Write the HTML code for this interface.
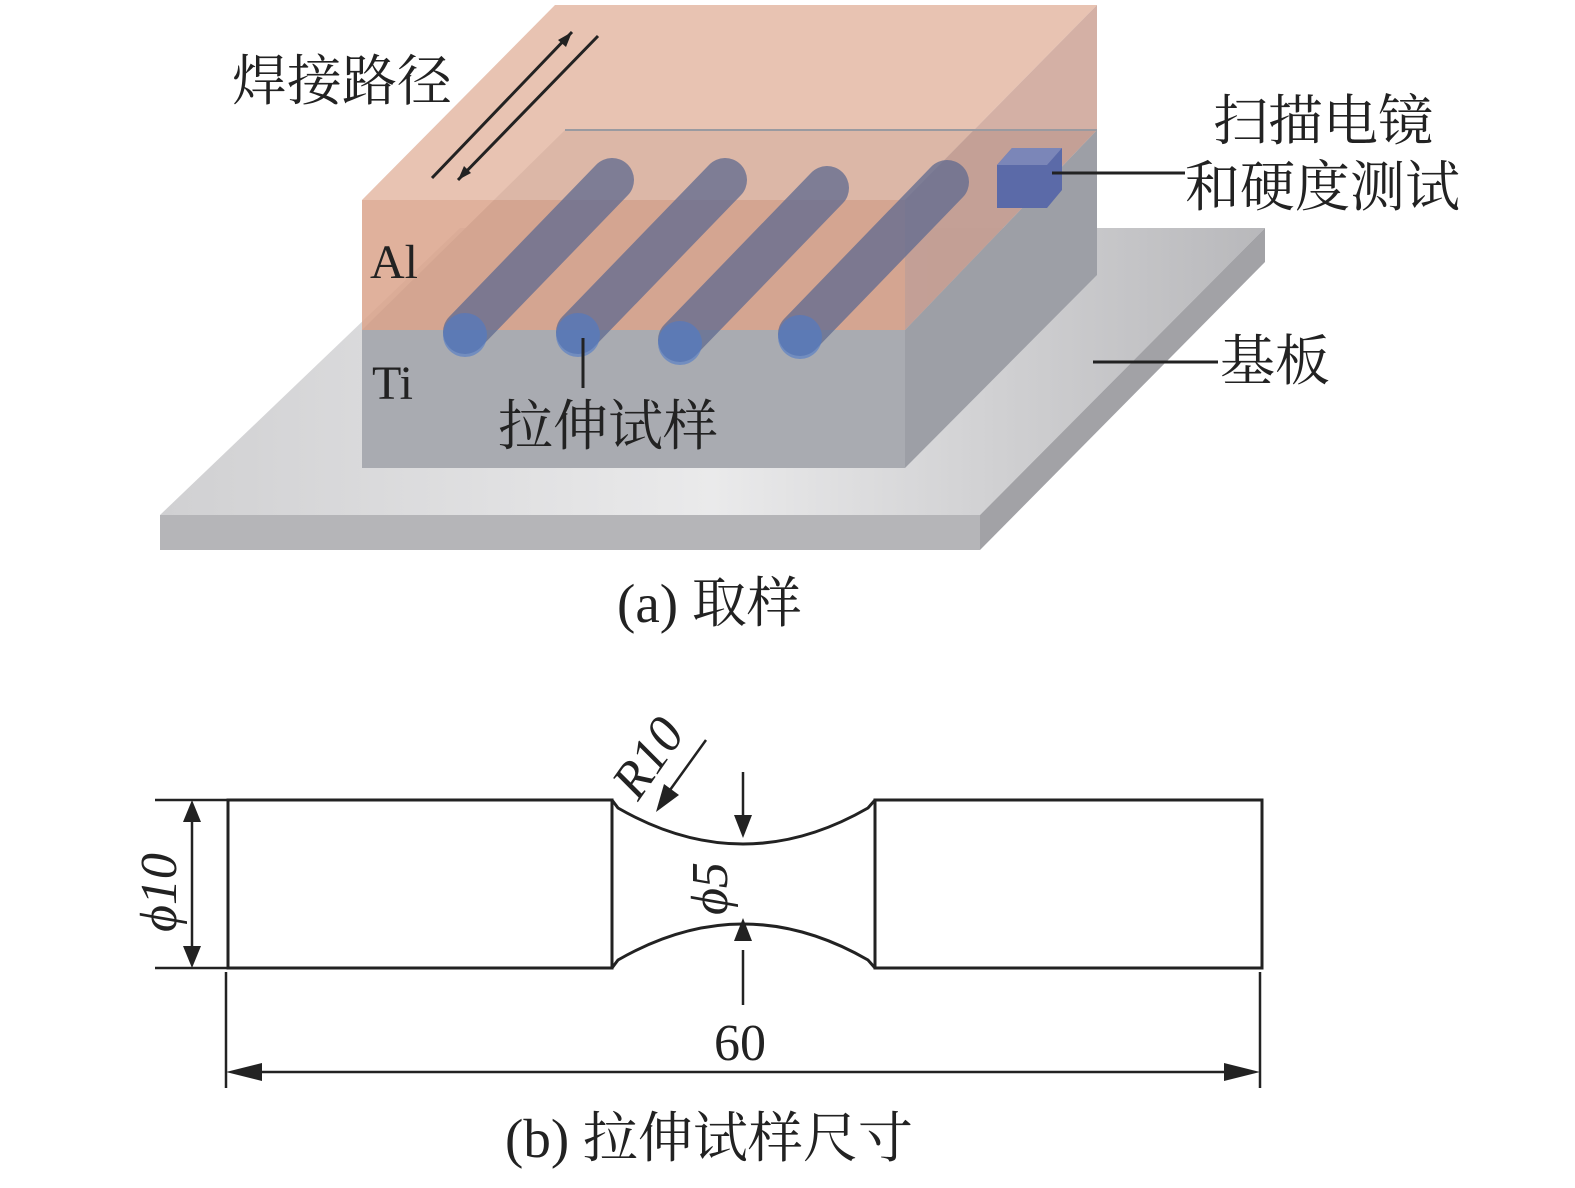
<!DOCTYPE html>
<html><head><meta charset="utf-8"><style>
html,body{margin:0;padding:0;background:#fff}
svg text{font-family:"Liberation Serif","Noto Serif CJK SC",serif;fill:#222}
</style></head><body>
<svg width="1575" height="1183" viewBox="0 0 1575 1183" xmlns="http://www.w3.org/2000/svg">
<defs>
<linearGradient id="plate" x1="0" y1="0" x2="1" y2="0">
<stop offset="0" stop-color="#d0d0d2"/><stop offset="0.5" stop-color="#eaeaeb"/><stop offset="1" stop-color="#b8b8bb"/></linearGradient>
</defs>
<polygon points="160,515 980,515 1265,228 460,228" fill="url(#plate)"/>
<polygon points="160,515 980,515 980,550 160,550" fill="#b5b5b8"/>
<polygon points="980,515 1265,228 1265,262 980,550" fill="#a2a2a6"/>
<polygon points="362,330 905,330 905,468 362,468" fill="#a9abb1"/>
<polygon points="905,330 1097,130 1097,275 905,468" fill="#9d9fa6"/>
<polygon points="362,330 905,330 1097,130 565,130" fill="#a6a7ad" opacity="0.9"/>
<polygon points="362,200 905,200 905,330 362,330" fill="#dba38b" opacity="0.85"/>
<polygon points="362,200 905,200 1097,5 555,5" fill="#e4b8a4" opacity="0.85"/>
<polygon points="905,200 1097,5 1097,130 905,330" fill="#c99c8e" opacity="0.8"/>
<line x1="565" y1="130" x2="1097" y2="130" stroke="#9a9aa0" stroke-width="2"/>
<g stroke="#5f6a90" stroke-width="44" stroke-linecap="round" opacity="0.75">
<line x1="465" y1="332" x2="612" y2="180"/>
<line x1="578" y1="332" x2="725" y2="180"/>
<line x1="680" y1="340" x2="827" y2="188"/>
<line x1="800" y1="334" x2="947" y2="182"/>
</g>
<g fill="#4f7ac8" opacity="0.6">
<circle cx="465" cy="335" r="22"/><circle cx="578" cy="335" r="22"/><circle cx="680" cy="343" r="22"/><circle cx="800" cy="337" r="22"/>
</g>
<polygon points="997,165 1012,148 1062,148 1062,190 1047,208 997,208" fill="#5b6aa8"/>
<polygon points="997,165 1012,148 1062,148 1047,165" fill="#7b86b8"/>
<g stroke="#222" stroke-width="3">
<line x1="432" y1="178" x2="572" y2="32"/><line x1="458" y1="180" x2="598" y2="36"/>
</g>
<polygon points="572,32 558,40 566,47" fill="#222"/>
<polygon points="458,180 464,166 471,173" fill="#222"/>
<g stroke="#222" stroke-width="3">
<line x1="1052" y1="173" x2="1185" y2="173"/>
<line x1="1093" y1="362" x2="1218" y2="362"/>
<line x1="583" y1="338" x2="583" y2="388"/>
</g>
<g font-size="55">
<text x="232" y="100">焊接路径</text>
<text x="1213" y="140">扫描电镜</text>
<text x="1185" y="206">和硬度测试</text>
<text x="1220" y="380">基板</text>
<text x="498" y="445">拉伸试样</text>
<text x="370" y="278" font-size="48">Al</text>
<text x="372" y="399" font-size="48">Ti</text>
<text x="617" y="622">(a) 取样</text>
<text x="505" y="1157">(b) 拉伸试样尺寸</text>
</g>
<g fill="none" stroke="#222" stroke-width="3">
<rect x="228" y="800" width="384" height="168"/>
<rect x="875" y="800" width="387" height="168"/>
<path d="M612,800 L618,808 Q743,880 868,808 L875,800"/>
<path d="M612,968 L618,960 Q743,888 868,960 L875,968"/>
</g>
<g stroke="#222" stroke-width="2.5">
<line x1="155" y1="800" x2="228" y2="800"/><line x1="155" y1="968" x2="228" y2="968"/>
<line x1="192" y1="820" x2="192" y2="950"/>
<line x1="743" y1="772" x2="743" y2="815"/><line x1="743" y1="950" x2="743" y2="1005"/>
<line x1="226" y1="972" x2="226" y2="1088"/><line x1="1260" y1="972" x2="1260" y2="1088"/>
<line x1="245" y1="1072" x2="1243" y2="1072"/>
<line x1="706" y1="740" x2="670" y2="790"/>
</g>
<g fill="#222">
<polygon points="192,800 183,822 201,822"/><polygon points="192,968 183,946 201,946"/>
<polygon points="743,838 734,815 752,815"/><polygon points="743,918 734,941 752,941"/>
<polygon points="226,1072 262,1063 262,1081"/><polygon points="1260,1072 1224,1063 1224,1081"/>
<polygon points="656,812 664,784 679,795"/>
</g>
<g font-size="52" font-style="italic">
<text transform="translate(176,932) rotate(-90)">ϕ10</text>
<text transform="translate(727,915) rotate(-90)">ϕ5</text>
<text transform="translate(638,802) rotate(-55)">R10</text>
</g>
<text x="714" y="1060" font-size="52">60</text>
</svg>
</body></html>
